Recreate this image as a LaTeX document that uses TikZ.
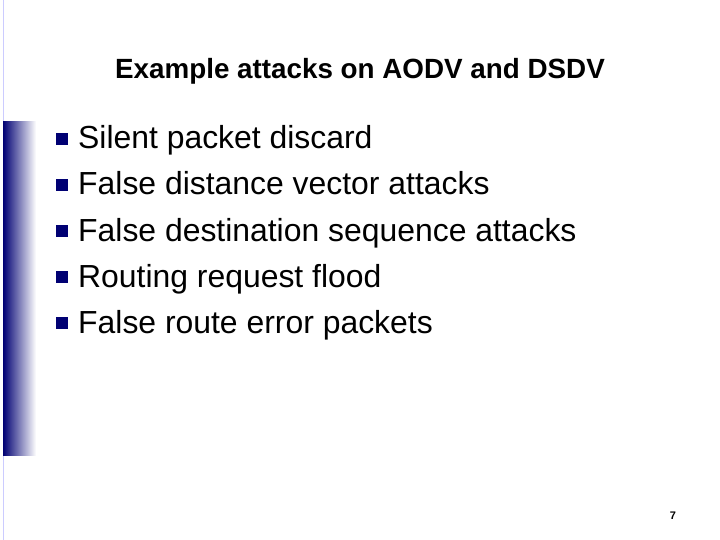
\documentclass[tikz,border=0pt]{standalone}
\usepackage{fontspec}
\setmainfont{Liberation Sans}
\begin{document}
\begin{tikzpicture}[x=1pt,y=-1pt,
  item/.style={anchor=base west,inner sep=0pt,font=\fontsize{31.9}{36}\selectfont},
  sq/.style={fill=blue!45!black,minimum size=12pt,inner sep=0pt}]
\useasboundingbox (0,0) rectangle (720,540);
\fill[white] (0,0) rectangle (720,540);
\draw[blue!20,line width=1pt] (3,0) -- (3,540);
\shade[left color=blue!45!black,right color=white] (3,122) rectangle (36,455);
\node[font=\bfseries\fontsize{27.8}{31}\selectfont,anchor=base] (t) at (360,79) {Example attacks on AODV and DSDV};
\foreach \y/\txt [count=\i] in {138/Silent packet discard,184/False distance vector attacks,230/False destination sequence attacks,276/Routing request flood,322/False route error packets}{
  \node[sq] (b\i) at (62,\y+1) {};
  \node[item] (l\i) at (78,\y+11) {\txt};
}
\node[font=\bfseries\fontsize{11}{13}\selectfont] (p) at (673,516) {7};
\end{tikzpicture}
\end{document}
